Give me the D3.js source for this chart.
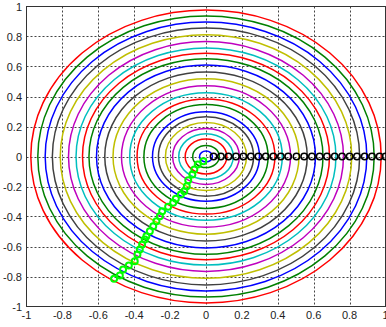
<!DOCTYPE html>
<html><head><meta charset="utf-8">
<script src="https://cdn.jsdelivr.net/npm/d3@7"></script>
<style>html,body{margin:0;padding:0;background:#fff;overflow:hidden}</style>
</head><body>
<svg id="c" width="386" height="327"></svg>
<script>
// ring radii (inner -> outer)
const ringRadii = [0.036, 0.074, 0.116, 0.152, 0.186, 0.226, 0.265, 0.298, 0.346, 0.384, 0.425, 0.471, 0.518, 0.564, 0.610, 0.652, 0.688, 0.724, 0.766, 0.812, 0.856, 0.896, 0.937, 0.976];
const ringColors = ["#0000ff", "#008000", "#ff0000", "#00bfbf", "#bf00bf", "#bfbf00", "#404040"];
// black markers on the real axis
const blackX = [0.042, 0.083, 0.125, 0.167, 0.208, 0.250, 0.292, 0.333, 0.375, 0.417, 0.458, 0.504, 0.547, 0.590, 0.633, 0.674, 0.717, 0.758, 0.800, 0.841, 0.884, 0.925, 0.967, 1.0];
const blackY = blackX.map(() => 0);
// green markers
const greenX = [-0.015, -0.046, -0.065, -0.076, -0.099, -0.107, -0.121, -0.140, -0.168, -0.183, -0.211, -0.244, -0.257, -0.276, -0.294, -0.313, -0.332, -0.341, -0.356, -0.369, -0.382, -0.397, -0.430, -0.462, -0.480, -0.512];
const greenY = [-0.031, -0.053, -0.087, -0.120, -0.158, -0.198, -0.231, -0.253, -0.282, -0.309, -0.335, -0.365, -0.398, -0.431, -0.465, -0.498, -0.531, -0.553, -0.587, -0.620, -0.653, -0.698, -0.727, -0.753, -0.793, -0.815];
const xTicks = [-1, -0.8, -0.6, -0.4, -0.2, 0, 0.2, 0.4, 0.6, 0.8, 1];
const yTicks = [-1, -0.8, -0.6, -0.4, -0.2, 0, 0.2, 0.4, 0.6, 0.8, 1];

const svg = d3.select("#c");
const x = d3.scaleLinear().domain([-1, 1]).range([26.5, 385.5]);
const y = d3.scaleLinear().domain([-1, 1]).range([306.5, 6.5]);
const fmt = v => (v === 0 ? "0" : String(v));

// grid
const grid = svg.append("g").attr("stroke", "#444").attr("stroke-width", 1).attr("stroke-dasharray", "2,2");
grid.selectAll(".gx").data(xTicks.slice(1, -1)).join("line")
  .attr("x1", d => Math.round(x(d)) + 0.5).attr("x2", d => Math.round(x(d)) + 0.5)
  .attr("y1", y(1)).attr("y2", y(-1));
grid.selectAll(".gy").data(yTicks.slice(1, -1)).join("line")
  .attr("y1", d => Math.round(y(d)) + 0.5).attr("y2", d => Math.round(y(d)) + 0.5)
  .attr("x1", x(-1)).attr("x2", x(1));

// rings
svg.append("g").selectAll("ellipse").data(ringRadii).join("ellipse")
  .attr("cx", x(0)).attr("cy", y(0))
  .attr("rx", d => x(d) - x(0)).attr("ry", d => y(0) - y(d))
  .attr("fill", "none")
  .attr("stroke", (d, i) => ringColors[i % ringColors.length])
  .attr("stroke-width", 1.5);

// frame
svg.append("rect").attr("x", x(-1)).attr("y", y(1))
  .attr("width", x(1) - x(-1)).attr("height", y(-1) - y(1))
  .attr("fill", "none").attr("stroke", "#333").attr("stroke-width", 1);

// markers
svg.append("g").selectAll("circle").data(blackX).join("circle")
  .attr("cx", d => x(d)).attr("cy", (d, i) => y(blackY[i])).attr("r", 3.2)
  .attr("fill", "none").attr("stroke", "#000").attr("stroke-width", 1.5);
svg.append("g").selectAll("circle").data(greenX).join("circle")
  .attr("cx", d => x(d)).attr("cy", (d, i) => y(greenY[i])).attr("r", 3)
  .attr("fill", "none").attr("stroke", "#00ff00").attr("stroke-width", 2);

// tick labels
const tl = svg.append("g").attr("font-family", "Liberation Sans, Arial, sans-serif").attr("font-size", 11).attr("fill", "#222");
tl.selectAll(".xl").data(xTicks).join("text")
  .attr("x", d => x(d)).attr("y", 318.5).attr("text-anchor", "middle").text(fmt);
tl.selectAll(".yl").data(yTicks).join("text")
  .attr("x", 22).attr("y", d => y(d) + 4).attr("text-anchor", "end").text(fmt);
</script>
</body></html>
